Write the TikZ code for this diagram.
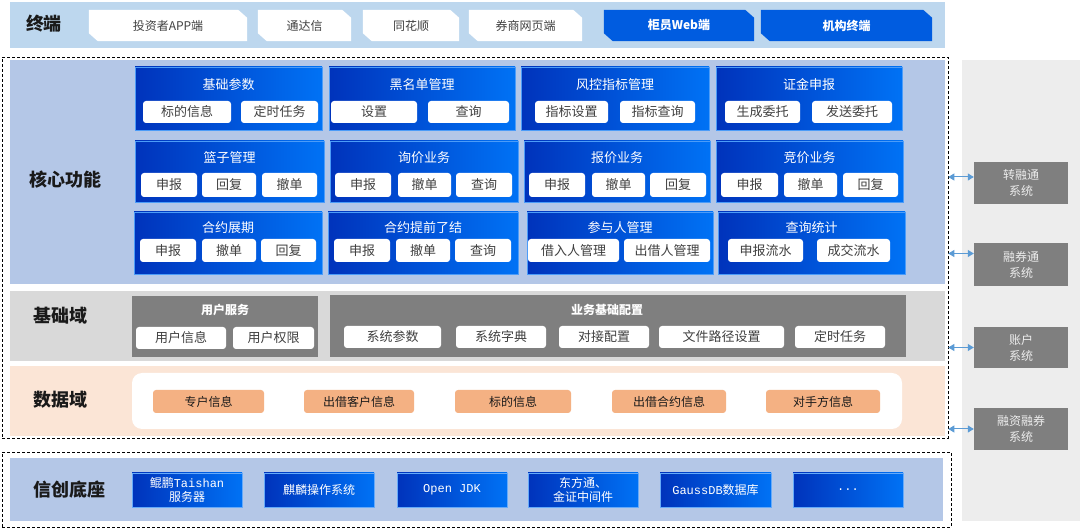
\documentclass[tikz,border=0pt]{standalone}
\usepackage{fontspec}
\setmainfont{Noto Sans CJK SC}
\newfontfamily\latinmono{Liberation Mono}
\usetikzlibrary{fit,arrows.meta}

\definecolor{termband}{HTML}{BDD7EE}
\definecolor{coreband}{HTML}{B4C7E7}
\definecolor{baseband}{HTML}{D9D9D9}
\definecolor{databand}{HTML}{FBE5D6}
\definecolor{sidepanel}{HTML}{EDEDED}
\definecolor{sysgray}{HTML}{7F7F7F}
\definecolor{dataorange}{HTML}{F4B183}
\definecolor{blueD}{HTML}{0033BB}
\definecolor{blueL}{HTML}{0072F5}
\definecolor{tabblue}{HTML}{005CE0}
\definecolor{arrowblue}{HTML}{5B9BD5}
\definecolor{itemtext}{HTML}{404040}
\definecolor{labeltext}{HTML}{1A1A1A}

\tikzset{
  band/.style={inner sep=0pt, draw=none},
  frame/.style={inner sep=0pt, draw=black, dash pattern=on 3pt off 2pt, line width=0.6pt},
  layerlabel/.style={font=\fontsize{18}{20}\selectfont\bfseries, text=labeltext},
  tabtext/.style={text=itemtext, font=\fontsize{12}{14}\selectfont},
  bluetabtext/.style={text=white, font=\fontsize{12}{14}\selectfont\bfseries},
  corebox/.style={inner sep=0pt, left color=blueD, right color=blueL, draw=blueL!70!white, line width=0.4pt},
  boxtitle/.style={text=white, font=\fontsize{13}{15}\selectfont},
  itembox/.style={inner sep=0pt, fill=white, rounded corners=3pt},
  itemlabel/.style={text=itemtext, font=\fontsize{13}{15}\selectfont},
  graybox/.style={inner sep=0pt, fill=sysgray},
  databox/.style={inner sep=0pt, fill=dataorange, rounded corners=3pt},
  datalabel/.style={text=labeltext, font=\fontsize{12}{14}\selectfont},
  basebox/.style={inner sep=0pt, left color=blueD, right color=blueL, draw=blueL!60!white, line width=0.4pt},
  baselabel/.style={text=white, align=center, font=\fontsize{12}{14}\selectfont},
  sysbox/.style={inner sep=0pt, fill=sysgray},
  syslabel/.style={text=white!93!black, align=center, font=\fontsize{12}{16}\selectfont},
  biarrow/.style={{Triangle[length=6pt,width=7pt]}-{Triangle[length=6pt,width=7pt]}, draw=arrowblue, fill=arrowblue, line width=1pt},
}

\begin{document}
\begin{tikzpicture}[x=1pt,y=-1pt]
\useasboundingbox (0,0) rectangle (1080,529);

% 终端
\node[band, fill=termband, fit={(10,2) (945,48)}] (termband) {};
\node[layerlabel] (termlabel) at (44,24) {终端};
\foreach \n/\a/\b/\t/\c/\s in {tab1/89/247/投资者APP端/white/tabtext, tab2/258/351/通达信/white/tabtext,
    tab3/363/459/同花顺/white/tabtext, tab4/469/582/券商网页端/white/tabtext,
    tab5/604/754/柜员Web端/tabblue/bluetabtext, tab6/761/932/机构终端/tabblue/bluetabtext} {
  \node[band, fit={(\a,10) (\b,41)}] (\n) {};
  \fill[\c] (\n.north west) -- ([xshift=-9pt]\n.north east) -- ([yshift=-8pt]\n.north east)
    -- (\n.south east) -- ([xshift=9pt]\n.south west) -- ([yshift=8pt]\n.south west) -- cycle;
  \node[\s] (\n-t) at (\n) {\t};
}

% 右侧外部系统
\node[band, fill=sidepanel, fit={(962,60) (1080,521)}] (sidepanel) {};
\foreach \n/\a/\b/\t in {zrt/162/204/转融通, rqt/243/286/融券通, zhxt/327/368/账户, rzrq/408/450/融资融券} {
  \node[sysbox, fit={(974,\a) (1068,\b)}] (\n) {};
  \node[syslabel] (\n-t) at (\n) {\t\\系统};
}

% 核心功能
\node[frame, fit={(2,57) (948,438)}] (mainframe) {};
\node[band, fill=coreband, fit={(10,60) (945,284)}] (coreband) {};
\node[layerlabel] (corelabel) at (66,180) {核心功能};

\node[corebox, fit={(135,67) (322,130)}] (jccs) {};
\node[corebox, fit={(329,67) (515,130)}] (hmd) {};
\node[corebox, fit={(521,67) (709,130)}] (fkzb) {};
\node[corebox, fit={(716,67) (902,130)}] (zjsb) {};
\node[boxtitle] at (jccs.north |- 0,85) (jccs-t) {基础参数};
\node[boxtitle] at (hmd.north |- 0,85) (hmd-t) {黑名单管理};
\node[boxtitle] at (fkzb.north |- 0,85) (fkzb-t) {风控指标管理};
\node[boxtitle] at (zjsb.north |- 0,85) (zjsb-t) {证金申报};
\foreach \n/\a/\b/\t in {jccs1/143/231/标的信息, jccs2/241/318/定时任务,
    hmd1/331/417/设置, hmd2/428/509/查询,
    fkzb1/535/608/指标设置, fkzb2/620/695/指标查询,
    zjsb1/725/800/生成委托, zjsb2/812/892/发送委托} {
  \node[itembox, fit={(\a,101) (\b,123)}] (\n) {};
  \node[itemlabel] (\n-t) at (\n) {\t};
}

\node[corebox, fit={(135,141) (324,202)}] (lzgl) {};
\node[corebox, fit={(330,141) (518,202)}] (xjyw) {};
\node[corebox, fit={(524,141) (710,202)}] (bjyw) {};
\node[corebox, fit={(716,141) (903,202)}] (jjyw) {};
\node[boxtitle] at (lzgl.north |- 0,158) (lzgl-t) {篮子管理};
\node[boxtitle] at (xjyw.north |- 0,158) (xjyw-t) {询价业务};
\node[boxtitle] at (bjyw.north |- 0,158) (bjyw-t) {报价业务};
\node[boxtitle] at (jjyw.north |- 0,158) (jjyw-t) {竞价业务};
\foreach \n/\a/\b/\t in {lzgl1/141/197/申报, lzgl2/202/256/回复, lzgl3/262/317/撤单,
    xjyw1/335/391/申报, xjyw2/398/451/撤单, xjyw3/456/512/查询,
    bjyw1/529/585/申报, bjyw2/592/645/撤单, bjyw3/650/706/回复,
    jjyw1/721/778/申报, jjyw2/784/837/撤单, jjyw3/843/898/回复} {
  \node[itembox, fit={(\a,173) (\b,197)}] (\n) {};
  \node[itemlabel] (\n-t) at (\n) {\t};
}

\node[corebox, fit={(134,212) (322,274)}] (hyzq) {};
\node[corebox, fit={(328,212) (518,274)}] (hytq) {};
\node[corebox, fit={(527,212) (713,274)}] (cyr) {};
\node[corebox, fit={(718,212) (905,274)}] (cxtj) {};
\node[boxtitle] at (hyzq.north |- 0,228) (hyzq-t) {合约展期};
\node[boxtitle] at (hytq.north |- 0,228) (hytq-t) {合约提前了结};
\node[boxtitle] at (cyr.north |- 0,228) (cyr-t) {参与人管理};
\node[boxtitle] at (cxtj.north |- 0,228) (cxtj-t) {查询统计};
\foreach \n/\a/\b/\t in {hyzq1/140/196/申报, hyzq2/202/256/撤单, hyzq3/261/316/回复,
    hytq1/334/390/申报, hytq2/396/450/撤单, hytq3/455/511/查询,
    cyr1/528/619/借入人管理, cyr2/624/710/出借人管理,
    cxtj1/728/803/申报流水, cxtj2/817/890/成交流水} {
  \node[itembox, fit={(\a,239) (\b,262)}] (\n) {};
  \node[itemlabel] (\n-t) at (\n) {\t};
}

% 基础域
\node[band, fill=baseband, fit={(10,291) (945,361)}] (baseband) {};
\node[layerlabel] (baselabel) at (61,316) {基础域};
\node[graybox, fit={(132,296) (318,357)}] (yhfw) {};
\node[boxtitle, font=\fontsize{12}{14}\selectfont\bfseries] at (yhfw.north |- 0,310) (yhfw-t) {用户服务};
\node[graybox, fit={(330,295) (906,357)}] (ywpz) {};
\node[boxtitle, font=\fontsize{12}{14}\selectfont\bfseries] at (607,310) (ywpz-t) {业务基础配置};
\foreach \n/\a/\b/\t/\y in {yhfw1/136/226/用户信息/327, yhfw2/233/314/用户权限/327,
    ywpz1/344/441/系统参数/326, ywpz2/456/546/系统字典/326, ywpz3/559/649/对接配置/326,
    ywpz4/659/784/文件路径设置/326, ywpz5/795/885/定时任务/326} {
  \node[itembox, fit={(\a,\y) (\b,\y+22)}] (\n) {};
  \node[itemlabel] (\n-t) at (\n) {\t};
}

% 数据域
\node[band, fill=databand, fit={(10,366) (945,436)}] (databand) {};
\node[layerlabel] (datalabel) at (60,400) {数据域};
\node[band, fill=white, rounded corners=10pt, fit={(132,373) (902,429)}] (datapanel) {};
\foreach \n/\a/\b/\t in {sj1/153/264/专户信息, sj2/304/414/出借客户信息, sj3/455/571/标的信息,
    sj4/612/726/出借合约信息, sj5/766/880/对手方信息} {
  \node[databox, fit={(\a,390) (\b,413)}] (\n) {};
  \node[datalabel] (\n-t) at (\n) {\t};
}

% 信创底座
\node[frame, fit={(2,452) (951,527)}] (xcframe) {};
\node[band, fill=coreband, fit={(10,458) (943,521)}] (xcband) {};
\node[layerlabel] (xclabel) at (69,490) {信创底座};
\foreach \n/\a/\b/\t in {xc1/132/242/{鲲鹏{\latinmono Taishan}\\服务器}, xc2/264/374/麒麟操作系统,
    xc3/397/507/{\latinmono Open JDK}, xc4/528/638/{东方通、\\金证中间件},
    xc5/660/771/{{\latinmono GaussDB}数据库}, xc6/793/903/{\latinmono ...}} {
  \node[basebox, fit={(\a,473) (\b,507)}] (\n) {};
  \node[baselabel] (\n-t) at (\n) {\t};
}

% 接口
\draw[biarrow] ([yshift=6pt]zrt.west -| mainframe.east) -- ([yshift=6pt]zrt.west);
\draw[biarrow] ([yshift=11pt]rqt.west -| mainframe.east) -- ([yshift=11pt]rqt.west);
\draw[biarrow] (zhxt.west -| mainframe.east) -- (zhxt.west);
\draw[biarrow] (rzrq.west -| mainframe.east) -- (rzrq.west);
\end{tikzpicture}
\end{document}
